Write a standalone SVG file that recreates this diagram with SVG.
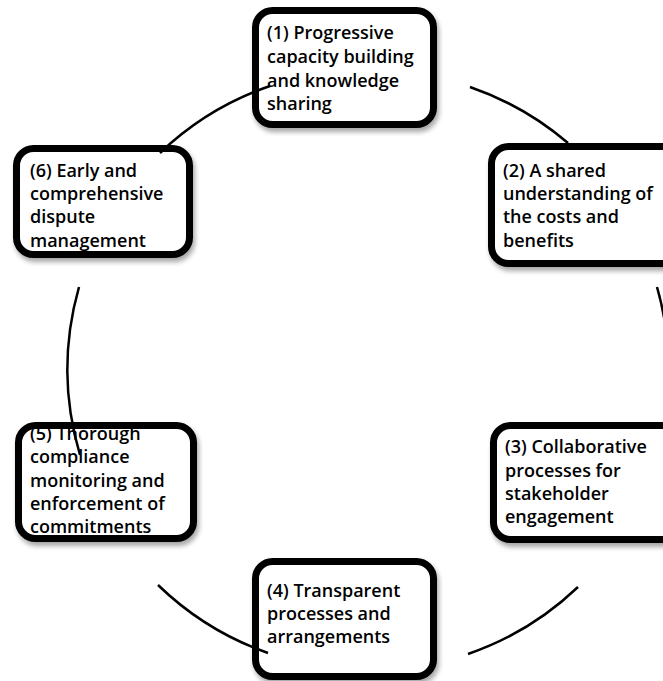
<svg xmlns="http://www.w3.org/2000/svg" width="663" height="681" viewBox="0 0 663 681">
<defs>
<filter id="sh" x="-10%" y="-10%" width="130%" height="130%">
<feGaussianBlur in="SourceAlpha" stdDeviation="2.5"/>
<feOffset dx="2" dy="4" result="b"/>
<feComponentTransfer><feFuncA type="linear" slope="0.35"/></feComponentTransfer>
<feMerge><feMergeNode/><feMergeNode in="SourceGraphic"/></feMerge>
</filter>
</defs>
<style>
.box{fill:#fff;stroke:#000;stroke-width:7;filter:url(#sh)}
.t{font-family:"Open Sans","Liberation Sans",sans-serif;font-size:18px;font-weight:600;fill:#000}
.arc{fill:none;stroke:#000;stroke-width:2.5}
</style>
<rect width="663" height="681" fill="#fff"/>
<g id="node1">
<rect class="box" x="255.5" y="10.5" width="178" height="114" rx="17"/>
<text class="t"><tspan x="267" y="39">(1) Progressive</tspan><tspan x="267" y="63">capacity building</tspan><tspan x="267" y="87">and knowledge</tspan><tspan x="267" y="110">sharing</tspan></text>
</g>
<g id="node2">
<rect class="box" x="491.5" y="146.5" width="200" height="117" rx="17"/>
<text class="t"><tspan x="503" y="177">(2) A shared</tspan><tspan x="503" y="200">understanding of</tspan><tspan x="503" y="223">the costs and</tspan><tspan x="503" y="247">benefits</tspan></text>
</g>
<g id="node3">
<rect class="box" x="493.5" y="425.5" width="200" height="114" rx="17"/>
<text class="t"><tspan x="505" y="453">(3) Collaborative</tspan><tspan x="505" y="477">processes for</tspan><tspan x="505" y="500">stakeholder</tspan><tspan x="505" y="523">engagement</tspan></text>
</g>
<g id="node4">
<rect class="box" x="255.5" y="561.5" width="178" height="115" rx="17"/>
<text class="t"><tspan x="267" y="597">(4) Transparent</tspan><tspan x="267" y="620">processes and</tspan><tspan x="267" y="643">arrangements</tspan></text>
</g>
<g id="node5">
<rect class="box" x="18.5" y="425.5" width="175" height="113" rx="17"/>
<text class="t"><tspan x="30" y="440">(5) Thorough</tspan><tspan x="30" y="463">compliance</tspan><tspan x="30" y="487">monitoring and</tspan><tspan x="30" y="510">enforcement of</tspan><tspan x="30" y="533">commitments</tspan></text>
</g>
<g id="node6">
<rect class="box" x="16.5" y="148.5" width="173" height="106" rx="17"/>
<text class="t"><tspan x="30" y="177">(6) Early and</tspan><tspan x="30" y="200">comprehensive</tspan><tspan x="30" y="223">dispute</tspan><tspan x="30" y="247">management</tspan></text>
</g>
<g id="connectors">
<path class="arc" d="M160,153 A301,301 0 0 1 270,86"/>
<path class="arc" d="M470,87 A301,301 0 0 1 568,143"/>
<path class="arc" d="M657,287 A301,301 0 0 1 668,350"/>
<path class="arc" d="M578,587 A301,301 0 0 1 468,654"/>
<path class="arc" d="M268,653 A301,301 0 0 1 158,585"/>
<path class="arc" d="M80,455 A301,301 0 0 1 79,287"/>
</g>
</svg>
